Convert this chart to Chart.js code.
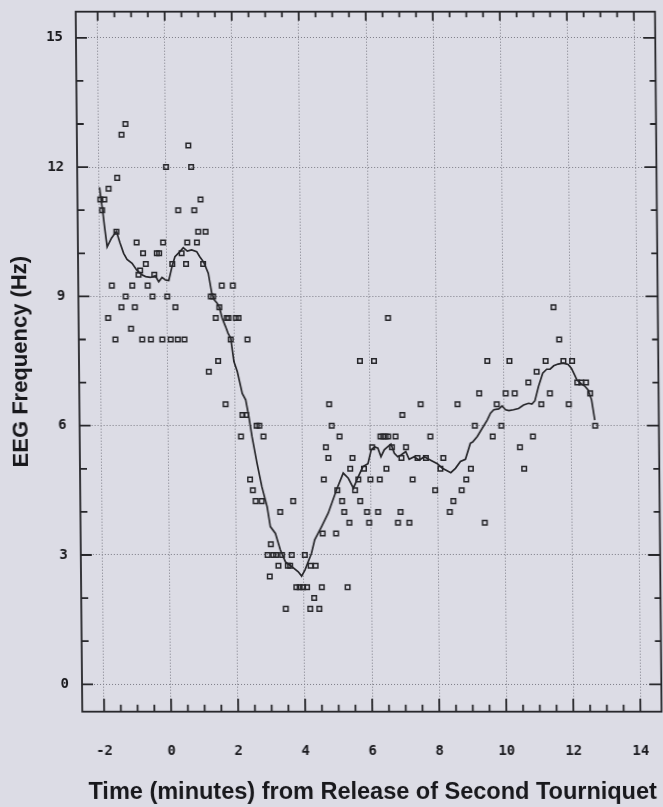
<!DOCTYPE html>
<html><head><meta charset="utf-8">
<script src="https://cdn.jsdelivr.net/npm/chart.js@4.4.0/dist/chart.umd.min.js"></script>
<style>
html,body{margin:0;padding:0;background:#dcdce5;overflow:hidden;width:663px;height:807px}
canvas{display:block;transform:skewX(0.54deg);transform-origin:0 362px}
</style></head><body>
<canvas id="c" width="663" height="807"></canvas>
<script>
// scatter observations (minutes, Hz)
const pointX = [-1.20,-1.32,0.67,0.0,0.75,-1.46,-1.72,-1.97,-1.85,-1.92,1.02,0.35,0.83,0.94,1.16,-1.50,-0.90,-0.11,0.61,0.90,
 -0.71,-0.30,-0.23,0.44,-0.63,0.57,1.08,0.16,-0.80,-0.85,-0.38,-1.65,-1.04,-0.58,1.63,1.96,-1.24,-0.44,0.0,1.30,
 1.37,-1.37,-0.97,0.24,1.55,-1.77,1.44,1.77,1.82,2.04,2.12,-1.09,-1.56,-0.76,-0.50,-0.16,0.09,0.30,0.50,1.88,
 2.38,1.50,1.22,1.71,2.21,2.32,2.63,2.71,2.16,2.83,2.42,2.50,2.58,2.76,3.70,3.31,3.02,2.92,3.09,3.17,
 3.35,3.64,4.03,3.24,3.52,3.59,4.20,4.35,2.98,3.77,3.87,3.97,4.09,4.53,5.30,4.30,3.45,4.18,4.45,
 4.57,4.97,4.62,4.69,4.76,4.80,4.87,5.10,5.48,5.41,5.02,5.16,5.22,5.37,6.58,5.73,6.15,9.53,7.53,8.63,
 9.80,9.28,6.98,9.14,6.32,6.40,6.47,6.55,6.77,7.81,9.67,6.07,6.66,7.08,6.94,7.42,7.67,8.19,5.82,6.49,
 8.10,9.01,5.65,6.01,6.29,7.27,8.87,5.55,7.94,8.73,5.70,8.48,5.90,6.23,6.90,8.37,5.96,6.82,7.16,9.41,
 11.52,11.68,10.19,11.27,11.80,12.06,11.0,10.75,12.21,12.33,12.47,10.07,10.34,11.39,12.59,11.13,11.95,9.93,12.73,10.87,
 10.48,10.60];
const pointY = [13.0,12.75,12.5,12.0,12.0,11.75,11.5,11.25,11.25,11.0,11.25,11.0,11.0,10.5,10.5,10.5,10.25,10.25,10.25,10.25,
 10.0,10.0,10.0,10.0,9.75,9.75,9.75,9.75,9.6,9.5,9.5,9.25,9.25,9.25,9.25,9.25,9.0,9.0,9.0,9.0,
 9.0,8.75,8.75,8.75,8.75,8.5,8.5,8.5,8.5,8.5,8.5,8.25,8.0,8.0,8.0,8.0,8.0,8.0,8.0,8.0,
 8.0,7.5,7.25,6.5,6.25,6.25,6.0,6.0,5.75,5.75,4.75,4.5,4.25,4.25,4.25,4.0,3.25,3.0,3.0,3.0,
 3.0,3.0,3.0,2.75,2.75,2.75,2.75,2.75,2.5,2.25,2.25,2.25,2.25,2.25,2.25,2.0,1.75,1.75,1.75,
 3.5,3.5,4.75,5.5,5.25,6.5,6.0,5.75,5.25,5.0,4.5,4.25,4.0,3.75,8.5,7.5,7.5,7.5,6.5,6.5,
 6.5,6.75,6.25,6.0,5.75,5.75,5.75,5.75,5.75,5.75,5.75,5.5,5.5,5.5,5.25,5.25,5.25,5.25,5.0,5.0,
 5.0,5.0,4.75,4.75,4.75,4.75,4.75,4.5,4.5,4.5,4.25,4.25,4.0,4.0,4.0,4.0,3.75,3.75,3.75,3.75,
 8.75,8.0,7.5,7.5,7.5,7.5,7.25,7.0,7.0,7.0,7.0,6.75,6.75,6.75,6.75,6.5,6.5,6.0,6.0,5.75,
 5.5,5.0];
// smoothed curve
const lineX = [-1.99,-1.95,-1.91,-1.85,-1.78,-1.65,-1.50,-1.40,-1.29,-1.19,-1.04,-0.90,-0.75,-0.64,-0.50,-0.35,-0.25,-0.15,-0.05,0.05,
 0.15,0.24,0.39,0.49,0.61,0.74,0.89,0.98,1.10,1.23,1.33,1.40,1.48,1.55,1.63,1.73,1.80,1.88,1.97,2.07,
 2.21,2.31,2.40,2.49,2.63,2.77,2.92,3.01,3.16,3.30,3.45,3.64,3.83,3.93,4.03,4.23,4.33,4.54,4.74,5.00,
 5.20,5.35,5.50,5.65,5.79,5.94,6.04,6.14,6.24,6.33,6.43,6.53,6.63,6.73,6.83,6.93,7.07,7.17,7.32,7.47,
 7.62,7.81,8.01,8.16,8.41,8.55,8.70,8.85,9.00,9.07,9.21,9.36,9.51,9.61,9.71,9.86,9.96,10.06,10.16,10.30,
 10.45,10.60,10.75,10.85,10.94,11.05,11.18,11.30,11.40,11.51,11.64,11.79,11.94,12.04,12.13,12.20,12.33,12.43,12.53,12.63,
 12.72];
const lineY = [11.53,11.25,11.03,10.6,10.15,10.35,10.51,10.25,10.0,9.86,9.77,9.61,9.50,9.46,9.44,9.48,9.34,9.44,9.38,9.37,
 9.69,9.92,10.04,10.13,10.05,10.08,10.04,9.92,9.79,9.54,9.07,8.92,8.85,8.75,8.5,8.30,8.15,8.03,7.49,7.25,
 6.75,6.60,6.21,5.74,5.13,4.58,4.12,3.66,3.50,3.12,2.84,2.73,2.61,2.51,2.65,3.04,3.35,3.66,3.97,4.52,
 4.90,4.78,4.55,4.82,5.05,5.12,5.44,5.51,5.48,5.28,5.44,5.51,5.57,5.36,5.28,5.32,5.40,5.22,5.28,5.20,
 5.28,5.20,5.12,5.01,4.91,5.01,5.17,5.22,5.59,5.62,5.75,5.94,6.13,6.29,6.37,6.39,6.46,6.37,6.35,6.37,
 6.40,6.48,6.52,6.50,6.58,6.91,7.22,7.31,7.31,7.39,7.43,7.45,7.42,7.33,7.18,7.06,6.97,6.92,6.83,6.60,
 6.13];
const xTicks = [-2,0,2,4,6,8,10,12,14];
const yTicks = [0,3,6,9,12,15];
const xTitle = 'Time (minutes) from Release of Second Tourniquet';
const yTitle = 'EEG Frequency (Hz)';

const INK = '#26262a';
const tickFont = {family:'"DejaVu Sans Mono", monospace', size:14, weight:'bold'};

const framePlugin = {
  id:'frame',
  afterDatasetsDraw(chart){
    const {ctx, chartArea:a, scales:{x, y}} = chart;
    ctx.save();
    ctx.strokeStyle = INK; ctx.lineWidth = 1.8; ctx.lineCap='butt';
    ctx.strokeRect(a.left, a.top, a.right - a.left, a.bottom - a.top);
    ctx.beginPath();
    for (let i = 0; i < xTicks.length; i++) {
      for (let k = 0; k < 4; k++) {
        const v = xTicks[i] + k * 0.5;
        if (v > xTicks[xTicks.length-1]) break;
        const px = x.getPixelForValue(v);
        const major = k === 0;
        ctx.moveTo(px, a.bottom); ctx.lineTo(px, a.bottom - (major ? 13 : 7));
        ctx.moveTo(px, a.top); ctx.lineTo(px, a.top + (major ? 9 : 5.5));
      }
    }
    for (let i = 0; i < yTicks.length; i++) {
      for (let k = 0; k < 3; k++) {
        const v = yTicks[i] + k;
        if (v > yTicks[yTicks.length-1]) break;
        const py = y.getPixelForValue(v);
        const major = k === 0;
        ctx.moveTo(a.left, py); ctx.lineTo(a.left + (major ? 11 : 7), py);
        ctx.moveTo(a.right, py); ctx.lineTo(a.right - (major ? 12 : 6), py);
      }
    }
    ctx.stroke();
    ctx.restore();
  }
};

new Chart(document.getElementById('c'), {
  type:'scatter',
  data:{
    datasets:[
      {
        label:'EEG frequency',
        data: pointX.map((v,i)=>({x:v, y:pointY[i]})),
        pointStyle:'rect', pointRadius:3.2, pointBorderWidth:1.5,
        borderColor:INK, backgroundColor:'rgba(0,0,0,0)', pointHoverRadius:3.2,
        order:1
      },
      {
        label:'Smoothed',
        data: lineX.map((v,i)=>({x:v, y:lineY[i]})),
        showLine:true, pointRadius:0, borderColor:INK, borderWidth:1.7, tension:0,
        order:2
      }
    ]
  },
  options:{
    responsive:false, animation:false, devicePixelRatio:1,
    layout:{padding:{top:11.7, right:0.7, left:0, bottom:0}},
    plugins:{legend:{display:false}, tooltip:{enabled:false}},
    scales:{
      x:{
        type:'linear', min:-2.652, max:14.631,
        afterBuildTicks(s){ s.ticks = xTicks.map(v=>({value:v})); },
        afterFit(s){ s.height = 95.3; s.paddingLeft = 0; s.paddingRight = 0; },
        ticks:{font:tickFont, color:'#1a1a1e', padding:31, maxRotation:0, autoSkip:false},
        grid:{color:'#7c7c86', lineWidth:1, drawTicks:false},
        border:{display:false, dash:[1,2]},
        title:{display:true, text:xTitle, color:'#18181c', padding:{top:0,bottom:0},
          font:{family:'"Liberation Sans", Arial, sans-serif', size:23.5, weight:'bold'}}
      },
      y:{
        type:'linear', min:-0.636, max:15.606,
        afterBuildTicks(s){ s.ticks = yTicks.map(v=>({value:v})); },
        afterFit(s){ s.width = 79; s.paddingTop = 0; s.paddingBottom = 0; },
        ticks:{font:tickFont, color:'#1a1a1e', padding:13},
        grid:{color:'#7c7c86', lineWidth:1, drawTicks:false},
        border:{display:false, dash:[1,2]},
        title:{display:true, text:yTitle, color:'#18181c', padding:{top:8,bottom:0},
          font:{family:'"Liberation Sans", Arial, sans-serif', size:22, weight:'bold'}}
      }
    }
  },
  plugins:[framePlugin]
});
</script>
</body></html>
